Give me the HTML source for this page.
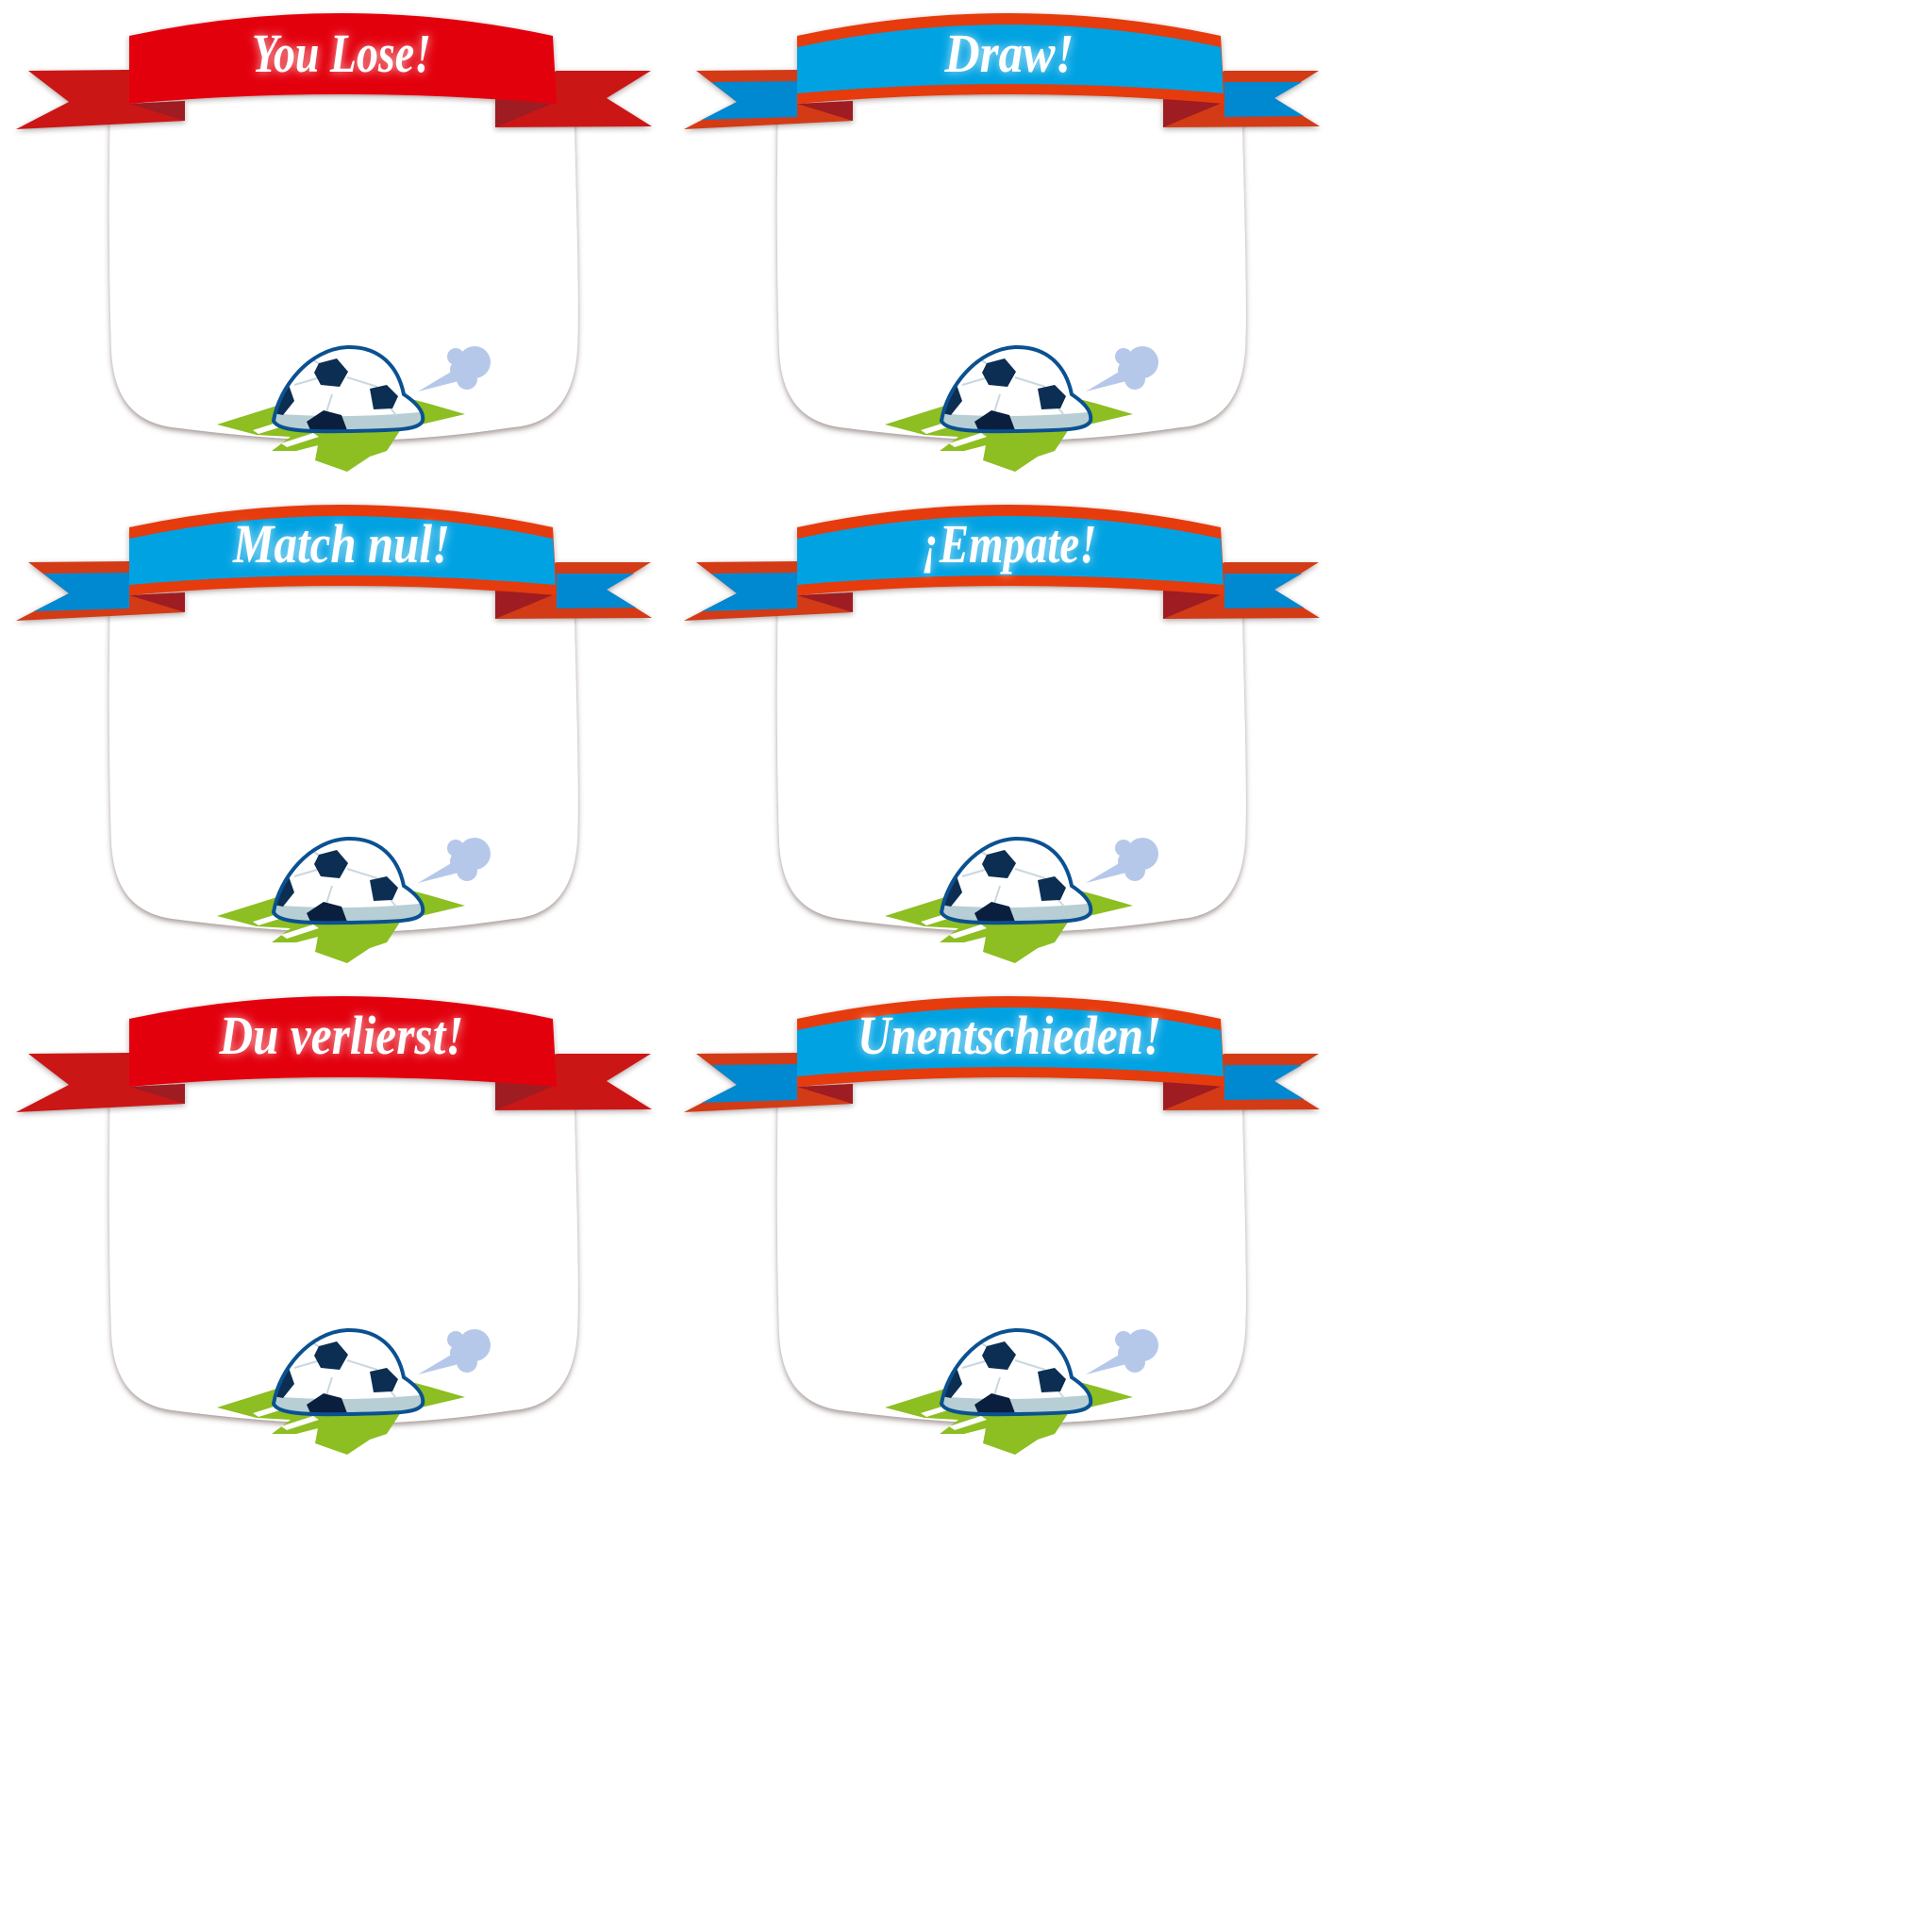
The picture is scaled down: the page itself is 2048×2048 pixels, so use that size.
<!DOCTYPE html>
<html><head><meta charset="utf-8"><style>html,body{margin:0;padding:0;background:#fff}svg{display:block}</style></head>
<body>
<svg width="2048" height="2048" viewBox="0 0 2048 2048" xmlns="http://www.w3.org/2000/svg">
<defs>
<filter id="sh" x="-10%" y="-10%" width="120%" height="130%"><feDropShadow dx="0" dy="3" stdDeviation="3" flood-color="#5a4540" flood-opacity="0.55"/></filter>
<filter id="rs" x="-10%" y="-20%" width="120%" height="150%"><feDropShadow dx="0" dy="2" stdDeviation="3" flood-color="#3a2a2a" flood-opacity="0.4"/></filter>
<filter id="glow" x="-20%" y="-40%" width="140%" height="180%"><feGaussianBlur in="SourceAlpha" stdDeviation="5" result="b"/><feFlood flood-color="#fff" flood-opacity="0.75"/><feComposite in2="b" operator="in" result="g"/><feMerge><feMergeNode in="g"/><feMergeNode in="SourceGraphic"/></feMerge></filter>
<clipPath id="ballclip"><path d="M290,446 C296,410 328,370 368,368 C402,367 422,388 428,418 C440,426 450,436 448,446 C444,456 420,456 370,457 C320,458 294,456 290,446 Z"/></clipPath>
<g id="body">
  <path filter="url(#sh)" fill="#fff" d="M117,102 L608,102 C612,250 614,330 612,370 C608,430 580,450 543,453 Q450,467 368,467 Q290,467 183,453 C140,447 120,420 118,370 C116,300 115,230 117,102 Z"/>
  <polygon fill="#8dbe22" points="230,450 300,428 440,424 455,428 493,439 425,455 410,478 392,484 368,500 334,488 337,472 314,478 288,478 308,463 272,461"/>
  <polygon fill="#fff" points="268,456 300,446 306,450 274,460"/>
  <polygon fill="#fff" points="298,470 332,459 338,463 304,474"/>
  <g fill="#b6c8ea">
    <circle cx="483" cy="378" r="9"/><circle cx="503" cy="384" r="17"/><circle cx="495" cy="402" r="11"/><circle cx="487" cy="392" r="10"/>
    <polygon points="443,415 485,390 494,402"/>
  </g>
  <g clip-path="url(#ballclip)">
    <rect x="285" y="360" width="170" height="100" fill="#fff"/>
    <path d="M285,438 Q370,445 455,436 L455,460 L285,460 Z" fill="#b7ced4"/>
    <g stroke="#c9d8de" stroke-width="2" fill="none">
      <path d="M350,397 L312,408 M368,400 L400,410 M352,418 L345,440 M405,422 L420,440 M330,380 L340,387"/>
    </g>
    <polygon fill="#0c2e52" points="338,385 357,380 369,394 360,410 340,408 333,395"/>
    <polygon fill="#0c2e52" points="392,412 410,408 422,420 416,433 396,434"/>
    <polygon fill="#0a1f3d" points="325,447 343,435 362,440 368,456 330,458"/>
    <polygon fill="#0c2e52" points="295,415 305,405 312,425 300,440 290,438"/>
  </g>
  <path fill="none" stroke="#0b5191" stroke-width="4" d="M290,446 C296,410 328,370 368,368 C402,367 422,388 428,418 C440,426 450,436 448,446 C444,456 420,456 370,457 C320,458 294,456 290,446 Z"/>
</g>
<g id="red">
  <g filter="url(#rs)">
  <polygon fill="#cb1517" points="30,75 137,74 137,110 196,107 196,128 17,137 73,108"/>
  <polygon fill="#cb1517" points="590,75 690,75 643,104 691,134 525,135 525,104"/>
  <polygon fill="#9e1f20" points="137,110 196,107 196,128"/>
  <polygon fill="#9e1f20" points="525,104 590,108 525,135"/>
  <path fill="#e3000f" d="M137,38 Q362,-10 586,38 L590,110 Q362,90 137,110 Z"/>
  </g>
</g>
<g id="blue">
  <g filter="url(#rs)">
  <polygon fill="#d23a15" points="30,75 137,74 137,110 196,107 196,128 17,137 73,108"/>
  <polygon fill="#0288d1" points="46,87 137,86 137,124 36,127 73,108"/>
  <polygon fill="#d23a15" points="590,75 690,75 643,104 691,134 525,135 525,104"/>
  <polygon fill="#0288d1" points="590,87 672,87 643,104 674,123 590,124"/>
  <polygon fill="#9e1f20" points="137,110 196,107 196,128"/>
  <polygon fill="#9e1f20" points="525,104 590,108 525,135"/>
  <path fill="#e63a0b" d="M137,38 Q362,-10 586,38 L590,110 Q362,90 137,110 Z"/>
  <path fill="#02a2e2" d="M137,50 Q362,2 586,50 L589,99 Q362,79 137,99 Z"/>
  </g>
</g>
</defs>
<g font-family="'Liberation Serif', serif" font-style="italic" font-weight="bold" font-size="58" fill="#fff" text-anchor="middle">
<g transform="translate(0,0)"><use href="#body"/><use href="#red"/><text x="362" y="76" textLength="190" lengthAdjust="spacingAndGlyphs" filter="url(#glow)">You Lose!</text></g>
<g transform="translate(708,0)"><use href="#body"/><use href="#blue"/><text x="362" y="76" textLength="137" lengthAdjust="spacingAndGlyphs" filter="url(#glow)">Draw!</text></g>
<g transform="translate(0,521)"><use href="#body"/><use href="#blue"/><text x="362" y="75" textLength="230" lengthAdjust="spacingAndGlyphs" filter="url(#glow)">Match nul!</text></g>
<g transform="translate(708,521)"><use href="#body"/><use href="#blue"/><text x="362" y="75" textLength="185" lengthAdjust="spacingAndGlyphs" filter="url(#glow)">¡Empate!</text></g>
<g transform="translate(0,1042)"><use href="#body"/><use href="#red"/><text x="362" y="75" textLength="259" lengthAdjust="spacingAndGlyphs" filter="url(#glow)">Du verlierst!</text></g>
<g transform="translate(708,1042)"><use href="#body"/><use href="#blue"/><text x="362" y="75" textLength="322" lengthAdjust="spacingAndGlyphs" filter="url(#glow)">Unentschieden!</text></g>
</g>
</svg>
</body></html>
